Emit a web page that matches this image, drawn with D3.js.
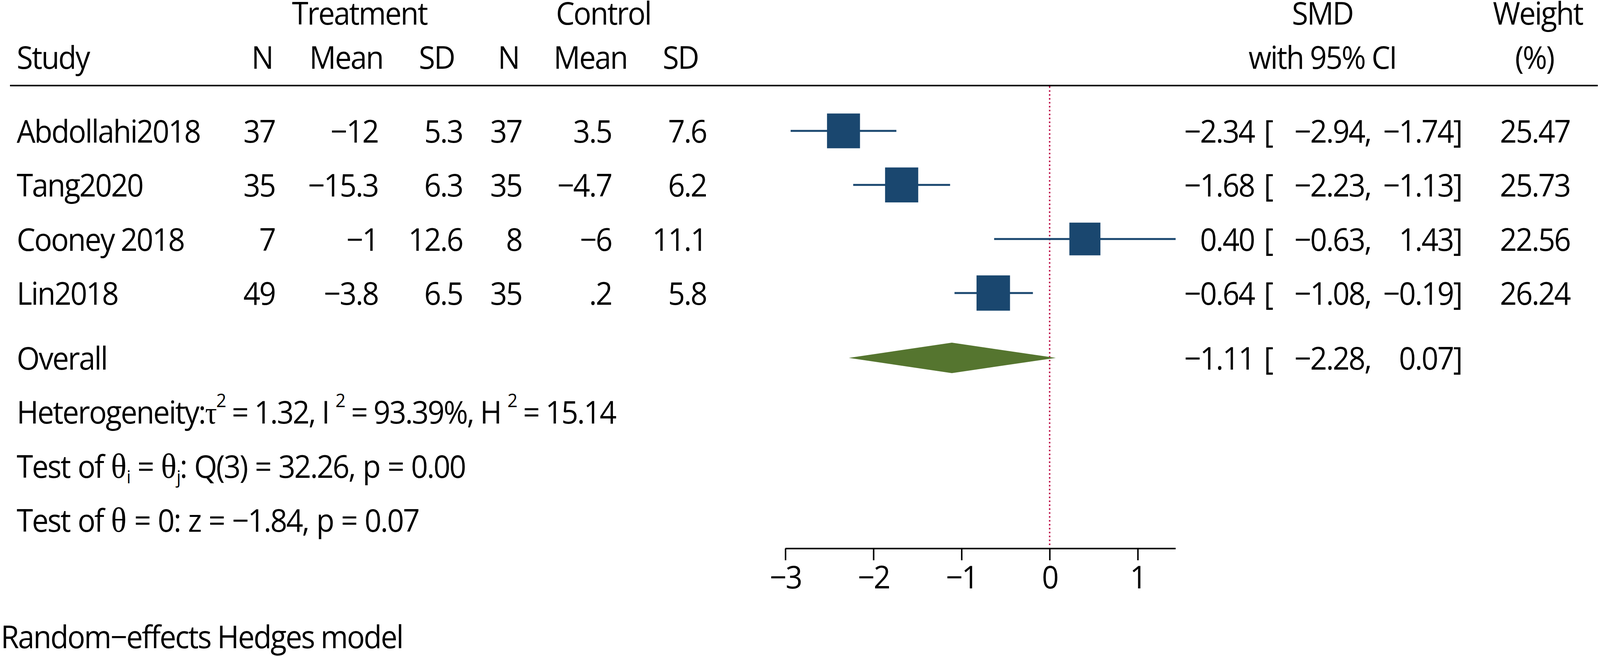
<!DOCTYPE html>
<html>
<head>
<meta charset="utf-8">
<script src="https://cdn.jsdelivr.net/npm/d3@7"></script>
<style>
  html, body { margin: 0; padding: 0; background: #fff; overflow: hidden; }
  svg { display: block; width: 100vw; height: 100vh; }
  text { font-family: "Open Sans", "Noto Sans", sans-serif; font-size: 80px; letter-spacing: -3px; fill: #000; }
  .math { font-family: "Liberation Serif", "DejaVu Serif", serif; letter-spacing: 0; }
  .test { word-spacing: 3px; }
  .axis path, .axis line { stroke: #000; stroke-width: 4; }
  .axis text { font-family: "Open Sans", "Noto Sans", sans-serif; font-size: 80px; }
</style>
</head>
<body>
<div id="container"></div>
<script>
// datos del forest plot
var studies    = ["Abdollahi2018", "Tang2020", "Cooney 2018", "Lin2018"];
var treatN     = [37, 35, 7, 49];
var treatMean  = [-12, -15.3, -1, -3.8];
var treatSD    = [5.3, 6.3, 12.6, 6.5];
var ctrlN      = [37, 35, 8, 35];
var ctrlMean   = [3.5, -4.7, -6, 0.2];
var ctrlSD     = [7.6, 6.2, 11.1, 5.8];
var smd        = [-2.34, -1.68, 0.40, -0.64];
var ciLow      = [-2.94, -2.23, -0.63, -1.08];
var ciHigh     = [-1.74, -1.13, 1.43, -0.19];
var weights    = [25.47, 25.73, 22.56, 26.24];
var overall    = { smd: -1.11, lo: -2.28, hi: 0.07 };
var axisTicks  = [-3, -2, -1, 0, 1];

var w = 4317, h = 1679;

// el svg llena la ventana con viewBox
var svg = d3.select("#container").append("svg")
    .attr("viewBox", "0 0 " + w + " " + h)
    .attr("preserveAspectRatio", "none");

// escalas
var x = d3.scaleLinear().domain([-3, 1.43]).range([2119, 3172]);
var yRow = d3.scaleLinear().domain([0, 7.2]).range([335, 1331]);
var side = d3.scaleSqrt().domain([0, 25.47]).range([0, 89]);

var navy = "#1a476f", green = "#55752f", refRed = "#c0184f";
var f2 = d3.format(".2f");
var minus = function (s) { return String(s).replace("-", "\u2212"); };
// formato tipo Stata %9.0g
function g(v) {
    var s = String(v);
    if (s.indexOf("0.") === 0) s = s.slice(1);
    if (s.indexOf("-0.") === 0) s = "-" + s.slice(2);
    return minus(s);
}

var base = 30; // distancia del centro de fila a la linea base del texto

// encabezados
var head1 = [["Treatment", 970], ["Control", 1628], ["SMD", 3568], ["Weight", 4149]];
var head2 = [["N", 707], ["Mean", 934], ["SD", 1178], ["N", 1372], ["Mean", 1593], ["SD", 1836],
             ["with 95% CI", 3568], ["(%)", 4140]];

svg.selectAll(".h1").data(head1).enter().append("text")
    .attr("x", function (d) { return d[1]; })
    .attr("y", 63)
    .attr("text-anchor", "middle")
    .text(function (d) { return d[0]; });

svg.selectAll(".h2").data(head2).enter().append("text")
    .attr("x", function (d) { return d[1]; })
    .attr("y", 176)
    .attr("text-anchor", "middle")
    .text(function (d) { return d[0]; });

svg.append("text").attr("x", 45).attr("y", 176).text("Study");

svg.append("line")
    .attr("x1", 27).attr("x2", 4311)
    .attr("y1", 219).attr("y2", 219)
    .attr("stroke", "#000").attr("stroke-width", 4);

// linea de referencia en 0
svg.append("line")
    .attr("x1", x(0)).attr("x2", x(0))
    .attr("y1", 221).attr("y2", 1398)
    .attr("stroke", refRed).attr("stroke-width", 4)
    .attr("stroke-dasharray", "4,6");

// columnas de texto
var cols = [
    { x: 742,  vals: treatN,    fmt: g },
    { x: 1020, vals: treatMean, fmt: g },
    { x: 1248, vals: treatSD,   fmt: g },
    { x: 1408, vals: ctrlN,     fmt: g },
    { x: 1650, vals: ctrlMean,  fmt: g },
    { x: 1906, vals: ctrlSD,    fmt: g }
];

var rows = svg.append("g").attr("class", "rows")
    .selectAll("g")
    .data(studies)
    .enter()
    .append("g");

rows.append("text")
    .attr("x", 45)
    .attr("y", function (d, i) { return yRow(i) + base; })
    .text(function (d) { return d; });

cols.forEach(function (c) {
    rows.append("text")
        .attr("x", c.x)
        .attr("y", function (d, i) { return yRow(i) + base; })
        .attr("text-anchor", "end")
        .text(function (d, i) { return c.fmt(c.vals[i]); });
});

// intervalos y cuadros
rows.append("line")
    .attr("x1", function (d, i) { return x(ciLow[i]); })
    .attr("x2", function (d, i) { return x(ciHigh[i]); })
    .attr("y1", function (d, i) { return yRow(i); })
    .attr("y2", function (d, i) { return yRow(i); })
    .attr("stroke", navy).attr("stroke-width", 5);

rows.append("rect")
    .attr("x", function (d, i) { return x(smd[i]) - side(weights[i]) / 2; })
    .attr("y", function (d, i) { return yRow(i) - side(weights[i]) / 2; })
    .attr("width", function (d, i) { return side(weights[i]); })
    .attr("height", function (d, i) { return side(weights[i]); })
    .attr("fill", navy);

// columna SMD [IC] y peso
function ciText(sel, es, lo, hi, yy) {
    sel.append("text").attr("x", 3384).attr("y", yy).attr("text-anchor", "end").text(f2(es));
    sel.append("text").attr("x", 3410).attr("y", yy).text("[");
    sel.append("text").attr("x", 3699).attr("y", yy).attr("text-anchor", "end").text(f2(lo) + ",");
    sel.append("text").attr("x", 3944).attr("y", yy).attr("text-anchor", "end").text(f2(hi) + "]");
}

rows.each(function (d, i) {
    var gsel = d3.select(this);
    ciText(gsel, smd[i], ciLow[i], ciHigh[i], yRow(i) + base);
    gsel.append("text")
        .attr("x", 4236)
        .attr("y", yRow(i) + base)
        .attr("text-anchor", "end")
        .text(f2(weights[i]));
});

// global
var yo = yRow(4.2);
svg.append("text").attr("x", 45).attr("y", yo + base).text("Overall");
svg.append("path")
    .attr("d", "M" + x(overall.lo) + "," + yo +
               "L" + x(overall.smd) + "," + (yo - 39) +
               "L" + x(overall.hi) + "," + yo +
               "L" + x(overall.smd) + "," + (yo + 39) + "Z")
    .attr("fill", green);
ciText(svg.append("g"), overall.smd, overall.lo, overall.hi, yo + base);

// estadisticos
var het = svg.append("text").attr("x", 45).attr("y", yRow(5.2) + base);
het.append("tspan").text("Heterogeneity:");
het.append("tspan").attr("class", "math").text("\u03c4");
het.append("tspan").attr("font-size", 48).attr("dx", -2).attr("dy", -42).text("2");
het.append("tspan").attr("dy", 42).text(" = 1.32, I ");
het.append("tspan").attr("font-size", 48).attr("dy", -42).text("2");
het.append("tspan").attr("dy", 42).text(" = 93.39%, H ");
het.append("tspan").attr("font-size", 48).attr("dy", -42).text("2");
het.append("tspan").attr("dy", 42).text(" = 15.14");

var t1 = svg.append("text").attr("class", "test").attr("x", 45).attr("y", yRow(6.2) + base);
t1.append("tspan").text("Test of ");
t1.append("tspan").attr("class", "math").attr("font-size", 88).text("\u03b8");
t1.append("tspan").attr("font-size", 46).attr("dy", 14).text("i");
t1.append("tspan").attr("dy", -14).text(" = ");
t1.append("tspan").attr("class", "math").attr("font-size", 88).text("\u03b8");
t1.append("tspan").attr("font-size", 46).attr("dy", 14).text("j");
t1.append("tspan").attr("dy", -14).text(": Q(3) = 32.26, p = 0.00");

var t2 = svg.append("text").attr("class", "test").attr("x", 45).attr("y", yRow(7.2) + base);
t2.append("tspan").text("Test of ");
t2.append("tspan").attr("class", "math").attr("font-size", 88).text("\u03b8");
t2.append("tspan").text(" = 0: z = \u22121.84, p = 0.07");

// eje x
svg.append("g")
    .attr("class", "axis")
    .attr("transform", "translate(0,1404)")
    .call(d3.axisBottom(x)
        .tickValues(axisTicks)
        .tickSize(30)
        .tickSizeOuter(0)
        .tickPadding(15)
        .tickFormat(d3.format("d")))
    .call(function (a) { a.select(".domain").attr("d", "M" + x(-3) + ",0H" + x(1.43)); })
    .selectAll("text").attr("fill", "#000");

svg.append("text").attr("x", 2).attr("y", 1659).text("Random\u2212effects Hedges model");
</script>
</body>
</html>
